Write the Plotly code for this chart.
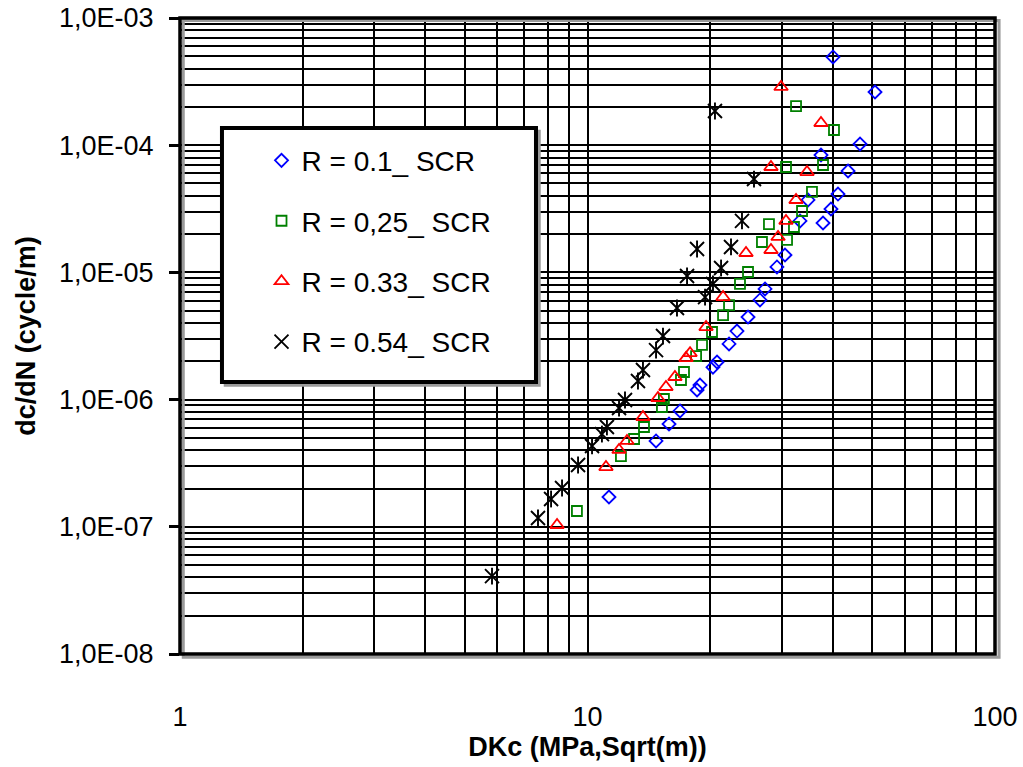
import plotly.graph_objects as go

# Crack growth rate data: DKc (MPa*sqrt(m)) vs dc/dN (cycle/m)
dk_r010 = [11.29, 14.73, 15.85, 16.87, 18.57, 18.88, 20.32, 20.79, 22.25, 23.27,
           24.77, 26.50, 27.27, 29.17, 30.52, 33.23, 34.77, 37.84, 39.58, 41.18,
           43.59, 37.41, 46.64, 50.76, 40.04]
dadn_r010 = [1.715e-7, 4.73e-7, 6.43e-7, 8.14e-7, 1.19e-6, 1.30e-6, 1.80e-6, 1.975e-6, 2.74e-6, 3.46e-6,
             4.46e-6, 6.07e-6, 7.41e-6, 1.103e-5, 1.37e-5, 2.54e-5, 3.71e-5, 2.445e-5, 3.15e-5, 4.13e-5,
             6.27e-5, 8.37e-5, 1.022e-4, 2.62e-4, 4.94e-4]

dk_r025 = [9.42, 12.08, 13.01, 13.76, 15.23, 15.40, 16.96, 17.25, 18.47, 19.10,
           20.21, 21.51, 22.25, 23.67, 24.77, 26.80, 27.88, 30.88, 32.11, 33.61,
           35.55, 30.70, 37.84, 32.49, 40.26]
dadn_r025 = [1.331e-7, 3.60e-7, 4.90e-7, 6.09e-7, 8.75e-7, 1.011e-6, 1.426e-6, 1.648e-6, 2.20e-6, 2.69e-6,
             3.40e-6, 4.62e-6, 5.54e-6, 8.11e-6, 1.007e-5, 1.734e-5, 2.40e-5, 1.80e-5, 2.275e-5, 3.04e-5,
             4.29e-5, 6.74e-5, 6.99e-5, 2.03e-4, 1.317e-4]

dk_r033 = [8.42, 11.10, 11.95, 12.50, 13.68, 14.89, 15.58, 16.39, 17.45, 17.85,
           19.54, 21.51, 24.49, 28.20, 29.35, 30.70, 32.49, 28.20, 34.57, 29.85, 37.41]
dadn_r033 = [1.033e-7, 2.95e-7, 4.02e-7, 4.73e-7, 7.30e-7, 1.029e-6, 1.256e-6, 1.506e-6, 2.12e-6, 2.32e-6,
             3.72e-6, 6.40e-6, 1.421e-5, 1.50e-5, 1.90e-5, 2.54e-5, 3.71e-5, 6.74e-5, 6.15e-5, 2.87e-4, 1.494e-4]

dk_r054 = [5.83, 7.56, 8.14, 8.66, 9.48, 10.26, 10.85, 11.16, 11.95, 12.36,
           13.30, 13.68, 14.73, 15.32, 16.58, 17.55, 18.57, 19.43, 20.32, 21.27,
           22.50, 23.94, 25.62, 20.55]
dadn_r054 = [4.10e-8, 1.173e-7, 1.654e-7, 2.018e-7, 3.06e-7, 4.32e-7, 5.36e-7, 6.09e-7, 8.59e-7, 9.93e-7,
             1.40e-6, 1.708e-6, 2.45e-6, 3.16e-6, 5.25e-6, 9.37e-6, 1.528e-5, 6.40e-6, 8.11e-6, 1.083e-5,
             1.585e-5, 2.54e-5, 5.42e-5, 1.857e-4]

x_ticks = [1, 10, 100]
x_ticktext = ["1", "10", "100"]
y_ticks = [1e-8, 1e-7, 1e-6, 1e-5, 1e-4, 1e-3]
y_ticktext = ["1,0E-08", "1,0E-07", "1,0E-06", "1,0E-05", "1,0E-04", "1,0E-03"]

FONT = "Liberation Sans, Arial, sans-serif"

fig = go.Figure()

fig.add_trace(go.Scatter(
    x=dk_r010, y=dadn_r010, mode="markers", name="R = 0.1_ SCR",
    legendgroup="a",
    marker=dict(symbol="diamond-open", size=10, color="#0000FF", line=dict(width=1.8, color="#0000FF"))))
fig.add_trace(go.Scatter(
    x=dk_r025, y=dadn_r025, mode="markers", name="R = 0,25_ SCR",
    legendgroup="b",
    marker=dict(symbol="square-open", size=10, color="#008000", line=dict(width=1.8, color="#008000"))))
fig.add_trace(go.Scatter(
    x=dk_r033, y=dadn_r033, mode="markers", name="R = 0.33_ SCR",
    legendgroup="c",
    marker=dict(symbol="triangle-up-open", size=12, color="#FF0000", line=dict(width=1.8, color="#FF0000"))))
fig.add_trace(go.Scatter(
    x=dk_r054, y=dadn_r054, mode="markers", name="R = 0.54_ SCR",
    legendgroup="d",
    marker=dict(symbol="x-thin-open", size=14, color="#000000", line=dict(width=1.9, color="#000000"))))
# vertical stroke completing the six-armed star marker
fig.add_trace(go.Scatter(
    x=dk_r054, y=dadn_r054, mode="markers", showlegend=False,
    legendgroup="d", hoverinfo="skip",
    marker=dict(symbol="line-ns-open", size=12, color="#000000", line=dict(width=1.9, color="#000000"))))

grid = dict(showgrid=True, gridcolor="#000000", gridwidth=1.6)

fig.update_xaxes(
    type="log", range=[0, 2], automargin=False,
    tickmode="array", tickvals=x_ticks, ticktext=x_ticktext,
    ticks="", ticklabelstandoff=44,
    tickfont=dict(family=FONT, size=27, color="#000000"),
    minor=dict(dtick="D1", ticks="", **grid),
    showline=False, zeroline=False,
    title=dict(text="<b>DKc (MPa,Sqrt(m))</b>", standoff=4,
               font=dict(family=FONT, size=27, color="#000000")),
    **grid)
fig.update_yaxes(
    type="log", range=[-8, -3], automargin=False,
    tickmode="array", tickvals=y_ticks, ticktext=y_ticktext,
    ticks="outside", ticklen=10, tickwidth=3, tickcolor="#000000",
    ticklabelstandoff=10,
    tickfont=dict(family=FONT, size=27, color="#000000"),
    minor=dict(dtick="D1", ticks="", **grid),
    showline=False, zeroline=False,
    title=dict(text="<b>dc/dN (cycle/m)</b>", standoff=15,
               font=dict(family=FONT, size=27, color="#000000")),
    **grid)

# plot frame with a soft shadow on the lower right
fig.add_shape(type="rect", xref="paper", yref="paper", x0=0.004, y0=-0.005, x1=1.005, y1=0.996,
              line=dict(color="#9a9a9a", width=3), layer="above")
fig.add_shape(type="rect", xref="paper", yref="paper", x0=0, y0=0, x1=1, y1=1,
              line=dict(color="#000000", width=3.5), layer="above")

# legend panel
lx0, lx1, ly0, ly1 = 0.0515, 0.4368, 0.4277, 0.827
fig.add_shape(type="rect", xref="paper", yref="paper", x0=lx0 + 0.004, y0=ly0 - 0.005, x1=lx1 + 0.004, y1=ly1 - 0.005,
              line=dict(color="#9a9a9a", width=3), fillcolor="#9a9a9a", layer="above")
fig.add_shape(type="rect", xref="paper", yref="paper", x0=lx0, y0=ly0, x1=lx1, y1=ly1,
              line=dict(color="#000000", width=4), fillcolor="#FFFFFF", layer="above")

fig.update_layout(
    width=1023, height=767,
    margin=dict(l=180, r=28, t=18, b=113, autoexpand=False),
    paper_bgcolor="#FFFFFF", plot_bgcolor="#FFFFFF",
    font=dict(family=FONT, color="#000000"),
    showlegend=True,
    legend=dict(
        x=0.1, y=0.815, xanchor="left", yanchor="top",
        bgcolor="rgba(0,0,0,0)", borderwidth=0,
        font=dict(family=FONT, size=28, color="#000000"),
        traceorder="grouped", tracegroupgap=21,
    ),
)

fig.write_html("out.html")
